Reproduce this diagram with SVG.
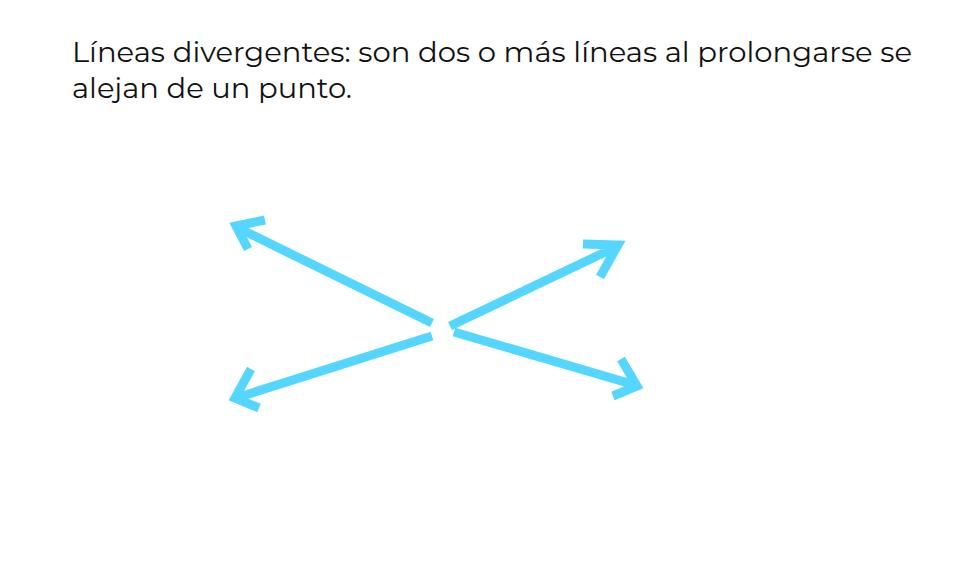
<svg xmlns="http://www.w3.org/2000/svg" width="963" height="565" viewBox="0 0 963 565">
<style>
.t{font-family:"Montserrat","Noto Sans","Open Sans",sans-serif;font-size:27.5px;fill:#111}
.a{fill:none;stroke:#55D6FF;stroke-width:9;stroke-linecap:butt;stroke-linejoin:miter}
</style>
<rect width="963" height="565" fill="#fff"/>
<g id="title">
<text class="t" x="72" y="62" textLength="840" lengthAdjust="spacingAndGlyphs">Líneas divergentes: son dos o más líneas al prolongarse se</text>
<text class="t" x="72" y="98" textLength="280" lengthAdjust="spacingAndGlyphs">alejan de un punto.</text>
</g>
<g id="connectors">
<path class="a" d="M432,323 L236,227 M265,220 L236,226 L248,249"/>
<path class="a" d="M450,326 L618,246 M583,244 L618,245 L600,277"/>
<path class="a" d="M432,336 L236,398 M251,369 L235,398 L259,408"/>
<path class="a" d="M454,332 L635,385 M621,359 L637,386 L613,396"/>
</g>
</svg>
